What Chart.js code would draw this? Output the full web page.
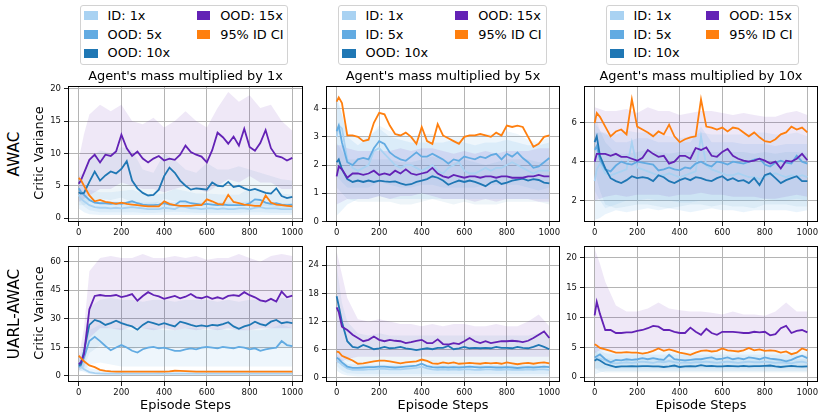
<!DOCTYPE html>
<html><head><meta charset="utf-8">
<script src="https://cdn.jsdelivr.net/npm/chart.js@4.4.1/dist/chart.umd.min.js"></script>
<style>
html,body{margin:0;padding:0;background:#fff;}
body{width:818px;height:415px;position:relative;overflow:hidden;font-family:'DejaVu Sans',sans-serif;color:#000;}
.abs{position:absolute;white-space:nowrap;line-height:1;transform:translate(-50%,-50%);}
.rot{transform:translate(-50%,-50%) rotate(-90deg);}
canvas{position:absolute;}
.leg{position:absolute;top:5px;height:60px;border:1px solid #d2d2d2;border-radius:3px;background:#fff;box-sizing:border-box;}
.sw{position:absolute;width:13.5px;height:8.5px;}
.lt{position:absolute;font-size:12.9px;line-height:1;white-space:nowrap;transform:translateY(-50%);}
</style></head><body>
<script>
// ---------- x positions ----------
const steps = [0,10,25,50,75,100,125,150,175,200,225,250,275,300,325,350,375,400,425,450,475,500,525,550,575,600,625,650,675,700,725,750,775,800,825,850,875,900,925,950,975,1000];
const bandSteps = [0,25,50,100,150,200,250,300,350,400,450,500,550,600,650,700,750,800,850,900,950,1000];
const xTicks = [0,200,400,600,800,1000];

// ---------- legends ----------
const legend1 = ['ID: 1x','OOD: 5x','OOD: 10x','OOD: 15x','95% ID CI'];
const legend2 = ['ID: 1x','ID: 5x','OOD: 10x','OOD: 15x','95% ID CI'];
const legend3 = ['ID: 1x','ID: 5x','ID: 10x','OOD: 15x','95% ID CI'];
const titles = ["Agent's mass multiplied by 1x","Agent's mass multiplied by 5x","Agent's mass multiplied by 10x"];
const rowLabels = ['AWAC','UARL-AWAC'];

// ---------- AWAC, mass 1x ----------
const a1_id1 = [3.6,3.0, 2.6,2.0,1.7,1.6,1.6,1.5,1.6,1.5,1.6,1.7, 1.6,1.5,1.4,1.4,1.4,1.6,1.5,1.4,1.8,1.7, 1.5,1.5,1.4,1.5,1.5,1.4,1.5,1.4,1.4,1.5, 1.5,1.4,1.6,1.7,1.5,1.5,1.5,1.4,1.4,1.4];
const a1_ood5 = [4.6,4.1, 3.6,2.8,2.4,2.3,2.3,2.2,2.3,2.2,2.4,2.6, 2.3,2.1,2.0,2.0,2.1,2.3,2.1,2.0,2.6,2.6, 2.3,2.2,2.1,2.2,2.1,2.0,2.1,2.0,2.0,2.0, 2.0,2.3,2.9,2.8,2.4,2.2,2.3,2.1,2.0,2.1];
const a1_ood10 = [4.0,3.8, 3.9,5.6,7.2,5.8,6.6,7.2,6.9,7.6,8.8,5.8, 4.6,3.9,3.5,3.6,4.4,6.5,7.8,7.0,5.8,5.0, 4.4,4.6,4.5,4.4,5.5,5.0,4.9,5.6,4.8,5.0, 4.6,4.3,4.5,4.2,3.9,3.8,4.6,3.4,3.1,3.3];
const a1_ood15 = [5.3,5.8, 7.0,9.0,9.8,8.6,9.8,9.6,10.3,12.9,10.8,9.6, 10.3,9.2,8.6,9.2,9.6,8.9,9.2,9.0,9.8,11.2, 10.2,9.8,9.5,8.6,10.5,13.2,12.5,11.5,12.6,11.2, 13.8,11.0,10.4,11.6,13.6,10.8,9.6,9.4,8.9,9.3];
const a1_ci = [6.2,5.9, 5.0,3.5,2.6,2.8,2.5,2.4,2.2,2.4,2.2,2.1, 2.0,1.9,1.8,1.8,1.8,2.6,2.2,2.0,1.9,1.9, 1.9,2.0,2.0,2.9,2.6,2.2,2.1,3.6,2.5,2.3, 2.1,2.0,1.9,1.9,3.5,2.4,2.1,2.0,1.9,1.8];
const a1_id1_hi = [5.0,3.8,3.0,2.6,2.6,2.5,2.6,2.4,2.4,2.6,2.5,2.4,2.4,2.4,2.5,2.4,2.4,2.6,2.5,2.4,2.3,2.3];
const a1_id1_lo = [1.5,0.9,0.6,0.5,0.5,0.5,0.5,0.5,0.5,0.5,0.5,0.5,0.5,0.5,0.5,0.5,0.5,0.5,0.5,0.5,0.5,0.5];
const a1_ood5_hi = [6.0,5.0,4.4,4.0,4.0,4.2,4.4,3.8,3.6,3.8,4.5,4.2,3.8,3.8,3.7,3.6,3.6,4.6,4.3,4.0,3.8,3.6];
const a1_ood5_lo = [2.8,1.8,1.2,0.9,0.9,0.9,0.9,0.8,0.8,0.9,1.0,0.9,0.8,0.8,0.8,0.8,0.8,0.9,0.9,0.8,0.8,0.8];
const a1_ood10_hi = [6.5,7.0,9.0,10.5,10.0,11.0,10.5,7.5,7.0,10.0,9.0,7.5,7.0,8.5,7.5,7.5,8.0,7.5,7.0,6.5,6.0,5.8];
const a1_ood10_lo = [2.0,2.0,2.5,3.0,2.8,3.2,2.5,2.0,2.0,3.0,2.6,2.2,2.2,2.5,2.2,2.2,2.4,2.2,2.0,1.8,1.6,1.6];
const a1_ood15_hi = [9.0,13.0,16.0,17.5,16.5,17.5,15.0,14.5,15.5,14.0,15.0,16.5,15.0,14.0,17.0,19.5,18.0,19.0,17.0,17.5,15.0,13.5];
const a1_ood15_lo = [2.5,3.0,3.5,4.5,4.5,5.5,5.0,4.5,4.5,4.0,4.5,5.0,4.5,4.0,5.0,6.0,5.5,6.5,5.5,5.5,4.5,4.5];

// ---------- AWAC, mass 5x ----------
const a5_id1 = [3.0,3.4, 3.3,2.2,1.9,1.8,1.9,2.0,2.5,2.6,2.4,2.2, 2.0,1.9,2.0,2.0,1.9,1.8,1.9,2.0,1.8,1.7, 1.9,2.0,2.1,1.8,1.7,1.7,1.8,1.9,1.8,1.9, 1.9,2.0,2.1,2.0,1.9,1.8,1.7,1.8,1.8,1.8];
const a5_id5 = [3.2,3.4, 2.8,2.1,2.0,2.2,2.25,2.2,2.6,2.85,2.75,2.45, 2.3,2.2,2.15,2.3,2.45,2.3,2.3,2.4,2.3,2.2, 2.05,2.2,2.15,2.3,2.25,2.2,2.3,2.25,2.35,2.4, 2.2,2.4,2.3,2.45,2.25,2.1,1.9,1.95,2.1,2.25];
const a5_ood10 = [2.1,2.2, 1.85,1.5,1.4,1.45,1.4,1.45,1.4,1.45,1.42,1.4, 1.42,1.35,1.3,1.32,1.4,1.45,1.5,1.6,1.55,1.45, 1.3,1.38,1.45,1.4,1.45,1.4,1.33,1.25,1.38,1.45, 1.33,1.38,1.45,1.48,1.52,1.45,1.5,1.47,1.38,1.35];
const a5_ood15 = [1.6,1.95, 1.85,1.55,1.7,1.7,1.65,1.7,1.8,1.65,1.7,1.65, 1.8,1.7,1.85,1.7,1.65,1.7,1.75,1.9,1.7,1.6, 1.55,1.65,1.6,1.55,1.6,1.6,1.55,1.6,1.6,1.55, 1.6,1.6,1.55,1.55,1.55,1.6,1.6,1.65,1.6,1.6];
const a5_ci = [4.25,4.4, 4.2,3.05,3.05,3.0,2.85,2.9,3.5,3.85,3.8,3.4, 3.1,3.05,3.15,3.0,2.75,3.35,2.85,2.75,3.45,3.05, 2.95,2.85,2.75,3.0,3.05,3.05,3.1,3.05,3.0,3.15, 3.05,3.4,3.35,3.4,3.35,3.0,2.65,2.75,3.0,3.05];
const a5_id1_hi = [4.5,3.8,3.0,2.7,3.0,3.3,3.0,2.9,2.8,2.8,2.8,2.8,2.9,2.8,2.7,2.8,2.8,2.9,2.8,2.7,2.7,2.8];
const a5_id1_lo = [0.2,0.4,0.6,0.8,0.8,0.9,0.8,0.8,0.8,0.8,0.8,0.8,0.8,0.8,0.8,0.8,0.8,0.8,0.8,0.8,0.8,0.8];
const a5_id5_hi = [4.3,3.8,3.1,3.0,3.0,3.4,3.2,3.1,3.0,3.1,3.1,3.0,3.0,3.0,3.0,3.1,3.1,3.2,3.1,2.9,2.8,3.0];
const a5_id5_lo = [1.6,1.4,1.2,1.2,1.2,1.4,1.3,1.2,1.2,1.3,1.3,1.2,1.2,1.2,1.2,1.3,1.3,1.3,1.3,1.2,1.1,1.2];
const a5_ood10_hi = [2.8,2.5,2.2,2.2,2.2,2.2,2.2,2.1,2.1,2.2,2.3,2.2,2.1,2.2,2.1,2.0,2.1,2.2,2.2,2.2,2.1,2.1];
const a5_ood10_lo = [1.2,1.0,0.8,0.7,0.7,0.7,0.7,0.6,0.6,0.7,0.8,0.7,0.6,0.7,0.6,0.6,0.6,0.7,0.7,0.7,0.7,0.6];
const a5_ood15_hi = [2.7,2.7,2.6,2.5,2.5,2.5,2.5,2.6,2.5,2.6,2.6,2.5,2.4,2.5,2.4,2.5,2.4,2.5,2.5,2.5,2.6,2.6];
const a5_ood15_lo = [0.6,0.7,0.8,0.8,0.8,0.9,0.8,0.9,0.9,1.0,0.9,0.8,0.8,0.8,0.7,0.8,0.7,0.8,0.8,0.8,0.7,0.7];

// ---------- AWAC, mass 10x ----------
const a10_id1 = [3.0,3.6, 3.9,3.4,3.3,3.4,3.5,3.6,5.0,3.7,3.6,3.5, 3.4,3.3,3.3,3.4,3.3,3.2,3.3,3.4,3.5,5.3, 3.8,3.6,3.5,3.4,3.3,3.3,3.4,3.3,3.2,3.2, 3.1,3.2,3.3,3.4,3.3,3.2,3.3,3.2,3.3,3.2];
const a10_id5 = [4.6,4.8, 4.1,3.6,3.5,3.8,4.0,3.9,3.85,4.0,3.95,3.9, 3.85,3.55,3.6,3.7,3.6,3.55,3.7,3.65,3.9,4.0, 3.85,3.75,4.0,3.95,3.85,4.0,3.95,3.9,4.0,4.1, 4.15,3.85,3.75,3.95,4.05,3.95,3.9,4.3,4.0,3.9];
const a10_id10 = [5.0,5.3, 4.3,3.65,3.15,3.0,2.9,3.05,3.25,3.15,3.2,3.15, 3.0,3.3,3.2,3.0,2.9,3.05,3.15,3.05,3.2,3.15, 3.05,3.0,3.15,3.25,3.05,3.15,3.0,3.05,2.9,3.15, 2.8,3.3,3.4,3.15,2.9,3.05,3.15,3.25,3.0,3.0];
const a10_ood15 = [4.0,4.4, 4.4,4.4,4.3,4.4,4.25,4.25,4.15,4.05,4.2,4.6, 4.4,4.25,4.3,3.9,4.0,4.3,4.3,4.15,4.7,4.6, 4.73,4.3,4.25,4.5,4.65,4.3,4.15,4.05,4.0,4.05, 4.15,4.05,3.9,4.0,3.65,4.05,4.0,4.15,4.4,4.07];
const a10_ci = [5.98,6.5, 6.3,5.8,5.3,5.55,5.65,5.4,7.2,5.8,5.65,5.5, 5.3,5.55,5.4,5.9,5.3,5.0,5.15,5.25,5.3,7.2, 5.8,5.75,5.65,5.75,5.55,5.75,5.7,5.5,5.3,5.5, 5.25,5.05,5.0,5.15,5.4,5.5,5.8,5.65,5.75,5.5];
const a10_id1_hi = [5.5,5.5,5.5,5.0,5.0,5.2,5.2,5.0,5.0,5.0,5.0,5.8,5.0,5.0,5.0,4.9,4.9,4.9,4.8,4.9,4.9,4.9];
const a10_id1_lo = [1.0,1.1,1.3,1.5,1.4,1.5,1.6,1.5,1.6,1.5,1.4,1.5,1.6,1.5,1.5,1.4,1.5,1.5,1.5,1.5,1.4,1.5];
const a10_id5_hi = [6.0,5.6,5.4,5.4,5.6,5.5,5.5,5.4,5.3,5.2,5.3,5.5,5.4,5.4,5.4,5.4,5.5,5.5,5.4,5.4,5.5,5.3];
const a10_id5_lo = [2.5,2.0,1.6,1.8,2.0,2.0,2.1,2.0,2.0,1.9,1.9,2.0,2.0,2.0,2.0,2.0,2.0,2.1,2.0,2.0,2.1,2.0];
const a10_id10_hi = [6.5,5.6,5.0,4.4,4.4,4.5,4.6,4.5,4.4,4.5,4.5,4.6,4.5,4.5,4.5,4.5,4.4,4.5,4.4,4.5,4.5,4.4];
const a10_id10_lo = [3.5,2.5,1.8,1.6,1.7,1.8,1.8,1.7,1.6,1.7,1.8,1.8,1.7,1.8,1.7,1.7,1.6,1.8,1.8,1.8,1.7,1.7];
const a10_ood15_hi = [6.8,6.7,6.6,6.6,6.7,6.5,6.8,6.6,6.6,6.4,6.5,6.6,6.6,6.5,6.4,6.5,6.4,6.3,6.3,6.5,6.6,6.4];
const a10_ood15_lo = [2.0,2.1,2.2,2.3,2.2,2.3,2.3,2.3,2.2,2.3,2.3,2.4,2.3,2.3,2.2,2.2,2.2,2.1,2.1,2.2,2.3,2.2];

// ---------- UARL-AWAC, mass 1x ----------
const u1_id1 = [7.0,5.0, 3.5,2.0,1.5,1.3,1.2,1.2,1.2,1.3,1.2,1.2, 1.2,1.2,1.2,1.2,1.3,1.2,1.2,1.2,1.2,1.2, 1.2,1.2,1.2,1.2,1.2,1.2,1.2,1.2,1.2,1.2, 1.2,1.2,1.2,1.2,1.2,1.2,1.2,1.2,1.2,1.2];
const u1_ood5 = [4.6,5.5, 9.7,18.3,20.5,18.3,15.7,13.5,14.9,16.2,14.9,13.2, 12.3,14.0,14.9,15.2,14.5,14.9,14.0,13.2,13.2,14.0, 14.5,14.0,14.9,15.2,14.9,14.5,15.2,14.9,14.5,15.2, 14.9,14.0,14.5,13.2,14.0,14.5,14.9,18.3,16.2,15.7];
const u1_ood10 = [5.5,6.0, 13,26.8,29.4,28.5,26.8,27.7,29,27.7,26.8,26, 24.3,26.8,28.5,27.7,26.8,27.7,26.8,26,28.5,27.7, 26.8,26,26.5,26,26.8,26.5,27.2,28.2,26,24.8, 26,26.8,28.5,27.2,26.5,28.5,29.4,27.7,28.2,27.7];
const u1_ood15 = [6.3,7.0, 11.5,35,42,42.5,42,42,42.5,41.4,42,43, 39.5,42,44,42.5,41.8,40.5,41.3,42,40.8,41.6, 43,41.3,40.8,41.8,40.5,41.3,40.5,42,42.4,42, 44,42.4,41.3,39.7,39.1,40.5,39.1,44.3,41.3,42.2];
const u1_ci = [10.6,9.5, 7.7,5.5,4.6,3.2,2.6,2.4,2.3,2.3,2.3,2.3, 2.3,2.3,2.3,2.3,2.3,2.3,2.4,2.7,2.6,2.5, 2.4,2.3,2.3,2.3,2.3,2.3,2.2,2.3,2.3,2.3, 2.2,2.3,2.3,2.2,2.3,2.3,2.2,2.3,2.3,2.3];
const u1_id1_hi = [10,7,4,3,3,3,3,3,3,3,3,3,3,3,3,3,3,3,3,3,3,3];
const u1_id1_lo = [3,2,1,0.3,0.3,0.3,0.3,0.3,0.3,0.3,0.3,0.3,0.3,0.3,0.3,0.3,0.3,0.3,0.3,0.3,0.3,0.3];
const u1_ood5_hi = [7,14,24,27,25,25,24,25,25,24,24,25,25,24,25,24,25,24,24,25,27,25];
const u1_ood5_lo = [2,3,6,7,6,5,5,5,5,5,5,5,5,5,5,5,5,5,5,5,5,5];
const u1_ood10_hi = [8,18,36,40,41,40,40,39,40,40,39,40,40,40,39,40,39,40,40,39,41,40];
const u1_ood10_lo = [3,4,12,16,16,15,14,15,15,14,15,15,14,14,15,14,15,15,14,15,15,15];
const u1_ood15_hi = [10,25,55,62,63,62,62,64,62,62,63,62,63,61,62,62,64,62,60,63,64,63];
const u1_ood15_lo = [3,5,20,25,25,24,26,25,24,25,24,25,24,25,24,25,24,24,25,25,25,25];

// ---------- UARL-AWAC, mass 5x ----------
const u5_id1 = [3.6,3.4, 2.8,2.0,1.7,1.7,1.7,1.8,1.8,1.9,1.9,1.8, 1.8,1.8,1.9,2.0,2.1,2.4,2.0,1.8,1.7,1.8, 1.7,1.8,1.7,1.8,1.8,1.7,1.7,1.8,1.8,1.7, 1.7,1.8,1.7,1.7,1.7,1.8,1.7,1.8,1.8,1.7];
const u5_id5 = [4.3,4.0, 3.3,2.4,2.1,2.1,2.2,2.3,2.3,2.4,2.4,2.3, 2.2,2.3,2.4,2.5,2.6,3.0,2.5,2.3,2.2,2.3, 2.2,2.3,2.2,2.3,2.4,2.3,2.2,2.3,2.3,2.2, 2.2,2.3,2.2,2.1,2.2,2.3,2.2,2.3,2.4,2.3];
const u5_ood10 = [17.4,15.3, 11.9,7.8,6.6,6.4,7.0,6.6,6.1,6.3,6.6,6.3, 6.4,6.6,6.3,6.1,5.9,6.1,6.3,6.1,6.4,6.4, 6.8,6.1,6.3,6.6,6.3,6.4,6.3,6.4,6.3,6.6, 6.4,6.4,6.3,6.6,6.4,6.3,6.6,7.0,6.6,6.1];
const u5_ood15 = [15,14.0, 10.9,10.2,9.2,8.5,7.8,8.1,8.8,8.1,7.8,8.1, 7.9,7.8,7.4,7.6,7.9,8.1,7.4,7.4,8.2,7.2, 7.1,7.4,7.2,7.8,8.5,7.8,7.4,7.8,7.4,7.6, 7.8,7.8,7.9,7.8,7.6,7.9,8.5,9.2,9.9,8.5];
const u5_ci = [5.6,5.5, 4.7,4.2,3.7,3.0,3.1,3.3,3.5,3.65,3.65,3.5, 3.3,3.1,3.3,3.4,3.5,3.9,3.6,3.1,3.0,3.3, 3.1,3.3,3.0,3.1,3.2,3.1,3.0,3.2,3.1,3.2, 3.0,3.3,3.1,2.9,3.1,3.2,3.0,3.2,3.3,3.1];
const u5_id1_hi = [5,4,3,2.8,2.8,2.8,2.8,2.8,2.8,2.8,2.8,2.8,2.8,2.8,2.8,2.8,2.8,2.8,2.8,2.8,2.8,2.8];
const u5_id1_lo = [1.5,0.8,0.5,0.3,0.3,0.3,0.3,0.3,0.3,0.3,0.3,0.3,0.3,0.3,0.3,0.3,0.3,0.3,0.3,0.3,0.3,0.3];
const u5_id5_hi = [6,4.8,4,3.5,3.5,3.6,3.5,3.5,3.5,3.6,3.8,3.5,3.5,3.5,3.5,3.5,3.5,3.5,3.5,3.5,3.5,3.5];
const u5_id5_lo = [2.5,1.5,1,0.8,0.8,0.8,0.8,0.8,0.8,0.8,0.8,0.8,0.8,0.8,0.8,0.8,0.8,0.8,0.8,0.8,0.8,0.8];
const u5_ood10_hi = [24,16,12,9.5,9,9.5,9,9,9,9,9,9,9,9,9,9,9,9,9,9,9.5,9];
const u5_ood10_lo = [6,4.5,3.5,3.5,3.5,3.5,3.5,3.5,3.5,3.5,3.5,3.5,3.5,3.5,3.5,3.5,3.5,3.5,3.5,3.5,3.5,3.5];
const u5_ood15_hi = [27,22,17,12.5,12,12.5,12,11.5,11.5,11,11.5,11,11.5,11.5,11,11,11.5,11,11,12,13.5,11];
const u5_ood15_lo = [3,3.5,4,4.5,4.5,4.5,4.5,4.5,4.5,4.5,4.5,4.5,4.5,4.5,4.5,4.5,4.5,4.5,4.5,4.5,4.5,4.5];

// ---------- UARL-AWAC, mass 10x ----------
const u10_id1 = [3.0,3.2, 3.1,2.8,2.4,2.3,2.4,2.5,2.4,2.5,2.6,2.5, 2.4,2.6,2.5,2.7,2.5,2.4,2.5,2.4,2.5,2.5, 2.6,2.5,2.4,2.5,2.6,2.5,2.4,2.5,2.6,2.5, 2.5,2.6,2.5,2.4,2.5,2.4,2.3,2.5,2.6,2.4];
const u10_id5 = [3.3,3.5, 3.8,3.0,2.5,2.9,2.8,3.0,2.9,3.0,3.2,3.0, 3.2,3.0,2.9,3.75,3.0,2.9,2.8,2.9,3.0,3.0, 3.2,3.3,3.0,3.1,3.3,3.0,3.2,3.0,3.3,3.2, 3.0,3.3,3.1,3.0,2.9,2.65,2.9,3.3,3.6,3.2];
const u10_id10 = [2.75,3.0, 2.8,2.2,1.95,1.7,1.8,1.8,1.85,1.8,1.85,1.85, 1.8,1.8,1.7,1.8,1.95,1.7,1.8,1.85,1.8,2.0, 1.85,1.9,1.8,1.8,1.9,1.85,1.8,1.9,1.8,1.85, 1.85,1.9,1.95,1.8,1.7,1.8,1.9,1.8,1.75,1.8];
const u10_ood15 = [10.35,12.6, 10.6,7.9,7.9,7.4,7.4,7.5,7.5,7.75,7.9,8.2, 8.6,8.45,7.9,7.9,7.6,7.4,7.4,8.3,7.6,7.1, 8.1,7.4,7.1,7.6,7.6,7.6,7.5,7.4,7.4,7.6, 7.5,7.6,7.0,7.2,8.2,8.6,7.4,7.75,7.9,7.5];
const u10_ci = [5.5,5.3, 4.9,4.65,4.4,4.1,4.1,4.2,4.1,4.1,3.95,4.1, 4.4,4.8,4.4,4.65,4.4,4.1,3.95,3.75,4.1,4.4, 4.5,4.3,4.4,4.8,4.5,4.4,4.3,4.5,4.9,4.5, 4.65,4.4,4.5,4.4,4.1,4.3,3.85,4.1,4.8,4.5];
const u10_id1_hi = [5.5,4.5,4,3.8,3.8,3.8,3.8,3.8,3.8,3.8,3.8,3.8,3.8,3.8,3.8,3.8,3.8,3.8,3.8,3.8,3.8,3.8];
const u10_id1_lo = [0.5,0.8,1,1,1,1,1,1,1,1,1,1,1,1,1,1,1,1,1,1,1,1];
const u10_id5_hi = [5,4.8,4.5,4.3,4.3,4.3,4.3,4.3,4.3,4.3,4.3,4.3,4.3,4.3,4.3,4.3,4.3,4.3,4.3,4.3,4.3,4.3];
const u10_id5_lo = [1.5,1.5,1.5,1.5,1.5,1.5,1.5,1.5,1.5,1.5,1.5,1.5,1.5,1.5,1.5,1.5,1.5,1.5,1.5,1.5,1.5,1.5];
const u10_id10_hi = [4.5,3.8,3.2,3,3,3,3,3,3,3,3,3,3,3,3,3,3,3,3,3,3,3];
const u10_id10_lo = [1.5,1,0.8,0.8,0.8,0.8,0.8,0.8,0.8,0.8,0.8,0.8,0.8,0.8,0.8,0.8,0.8,0.8,0.8,0.8,0.8,0.8];
const u10_ood15_hi = [21.5,19,16,12,11,11,11.5,12.5,11.5,11.2,11,11,10.8,10.5,11,10.5,10.5,10.3,11,12.5,11,11];
const u10_ood15_lo = [4,4.5,4.5,4.5,4.5,4.5,4.5,4.5,4.5,4.5,4.5,4.5,4.5,4.5,4.5,4.5,4.5,4.5,4.5,4.5,4.5,4.5];

// ---------- y ticks ----------
const yTicks = [[0,5,10,15,20],[0,1,2,3,4],[2,4,6],[0,15,30,45,60],[0,6,12,18,24],[0,5,10,15,20]];

// ---------- styling ----------
const COLORS = ['#a9d2f2','#62abe2','#1f77b4','#6322b5','#ff7f0e'];
const BANDS = ['rgba(169,210,242,0.24)','rgba(98,171,226,0.11)','rgba(31,119,180,0.075)','rgba(99,34,181,0.10)'];
const COLL = [68,326,584], COLW = [235,234,234];
const ROWT = [84,244], ROWH = 138;

const panels = [
  {c:0,r:0,ymin:-0.6,ymax:20.4,lines:[a1_id1,a1_ood5,a1_ood10,a1_ood15,a1_ci],
   bands:[[a1_id1_hi,a1_id1_lo],[a1_ood5_hi,a1_ood5_lo],[a1_ood10_hi,a1_ood10_lo],[a1_ood15_hi,a1_ood15_lo]]},
  {c:1,r:0,ymin:-0.02,ymax:4.8,lines:[a5_id1,a5_id5,a5_ood10,a5_ood15,a5_ci],
   bands:[[a5_id1_hi,a5_id1_lo],[a5_id5_hi,a5_id5_lo],[a5_ood10_hi,a5_ood10_lo],[a5_ood15_hi,a5_ood15_lo]]},
  {c:2,r:0,ymin:0.9,ymax:7.88,lines:[a10_id1,a10_id5,a10_id10,a10_ood15,a10_ci],
   bands:[[a10_id1_hi,a10_id1_lo],[a10_id5_hi,a10_id5_lo],[a10_id10_hi,a10_id10_lo],[a10_ood15_hi,a10_ood15_lo]]},
  {c:0,r:1,ymin:-3.2,ymax:68.2,lines:[u1_id1,u1_ood5,u1_ood10,u1_ood15,u1_ci],
   bands:[[u1_id1_hi,u1_id1_lo],[u1_ood5_hi,u1_ood5_lo],[u1_ood10_hi,u1_ood10_lo],[u1_ood15_hi,u1_ood15_lo]]},
  {c:1,r:1,ymin:-0.89,ymax:28.08,lines:[u5_id1,u5_id5,u5_ood10,u5_ood15,u5_ci],
   bands:[[u5_id1_hi,u5_id1_lo],[u5_id5_hi,u5_id5_lo],[u5_ood10_hi,u5_ood10_lo],[u5_ood15_hi,u5_ood15_lo]]},
  {c:2,r:1,ymin:-0.81,ymax:21.95,lines:[u10_id1,u10_id5,u10_id10,u10_ood15,u10_ci],
   bands:[[u10_id1_hi,u10_id1_lo],[u10_id5_hi,u10_id5_lo],[u10_id10_hi,u10_id10_lo],[u10_ood15_hi,u10_ood15_lo]]}
];

const frame = {id:'frame', afterDraw(c){
  const a=c.chartArea, x=c.ctx; x.save(); x.strokeStyle='#000'; x.lineWidth=1;
  x.strokeRect(Math.round(a.left)+0.5, Math.round(a.top)+0.5, Math.round(a.right-a.left)-1, Math.round(a.bottom-a.top)-1);
  x.restore();
}};

const TICKFONT = {family:'DejaVu Sans', size:8.5};
const YW=40, PT=6, PR=6, XH=22;

panels.forEach((p,pi)=>{
  const L=COLL[p.c], W=COLW[p.c], T=ROWT[p.r], H=ROWH;
  const cv=document.createElement('canvas');
  const w=YW+W+PR, h=PT+H+XH;
  cv.width=w; cv.height=h;
  cv.style.left=(L-YW)+'px'; cv.style.top=(T-PT)+'px';
  cv.style.width=w+'px'; cv.style.height=h+'px';
  document.body.appendChild(cv);
  const ds=[];
  p.bands.forEach((b,j)=>{
    ds.push({data:bandSteps.map((x,i)=>({x:x,y:b[0][i]})), borderWidth:0, pointRadius:0, fill:'+1', backgroundColor:BANDS[j], order:20-j});
    ds.push({data:bandSteps.map((x,i)=>({x:x,y:b[1][i]})), borderWidth:0, pointRadius:0, fill:false, order:20-j});
  });
  p.lines.forEach((l,j)=>{
    ds.push({data:steps.map((x,i)=>({x:x,y:l[i]})), borderColor:COLORS[j], borderWidth:1.8, pointRadius:0, fill:false, order:5-j});
  });
  const yt=yTicks[pi];
  new Chart(cv,{type:'line', data:{datasets:ds}, plugins:[frame], options:{
    responsive:false, animation:false, devicePixelRatio:1,
    layout:{padding:{top:PT,right:PR,left:0,bottom:0}, autoPadding:false},
    plugins:{legend:{display:false}, tooltip:{enabled:false}, title:{display:false}},
    elements:{line:{tension:0}, point:{radius:0}},
    scales:{
      x:{type:'linear', min:-50, max:1050,
        afterBuildTicks:a=>{a.ticks=xTicks.map(v=>({value:v}));},
        afterFit:s=>{s.height=XH;},
        ticks:{autoSkip:false, maxRotation:0, minRotation:0, padding:2, color:'#111', font:TICKFONT, callback:v=>String(v)},
        grid:{color:'#b4b4b4', lineWidth:1, tickColor:'#222', tickLength:4},
        border:{display:false}},
      y:{type:'linear', min:p.ymin, max:p.ymax,
        afterBuildTicks:a=>{a.ticks=yt.map(v=>({value:v}));},
        afterFit:s=>{s.width=YW;},
        ticks:{autoSkip:false, padding:3, color:'#111', font:TICKFONT, callback:v=>String(v)},
        grid:{color:'#b4b4b4', lineWidth:1, tickColor:'#222', tickLength:4},
        border:{display:false}}
    }
  }});
});

// ---------- text ----------
function addText(txt, x, y, size, rot){
  const d=document.createElement('div');
  d.className='abs'+(rot?' rot':'');
  d.style.left=x+'px'; d.style.top=y+'px'; d.style.fontSize=size+'px';
  d.textContent=txt; document.body.appendChild(d);
}
titles.forEach((t,i)=>addText(t, COLL[i]+COLW[i]/2, 75.5, 12.9));
rowLabels.forEach((t,i)=>{
  addText(t, 14.7, ROWT[i]+ROWH/2+0.5, 15.3, true);
  addText('Critic Variance', 39.2, ROWT[i]+ROWH/2, 12.9, true);
});
for(let i=0;i<3;i++) addText('Episode Steps', COLL[i]+COLW[i]/2, 404.5, 12.9);

// ---------- legends ----------
const legs=[{lab:legend1,left:80,width:208,col2:116.7},{lab:legend2,left:338,width:208.5,col2:116.7},{lab:legend3,left:606,width:192.5,col2:99.7}];
const rowY=[10.7,29.5,48.3];
legs.forEach(g=>{
  const box=document.createElement('div'); box.className='leg';
  box.style.left=g.left+'px'; box.style.width=g.width+'px';
  document.body.appendChild(box);
  g.lab.forEach((t,k)=>{
    const col=k<3?0:1, row=k<3?k:k-3;
    const x0=(col?g.col2:4)-1, y0=rowY[row]-1;
    const sw=document.createElement('div'); sw.className='sw';
    sw.style.left=x0+'px'; sw.style.top=(y0-4.25)+'px'; sw.style.background=COLORS[k];
    box.appendChild(sw);
    const tx=document.createElement('div'); tx.className='lt';
    tx.style.left=(x0+23.5)+'px'; tx.style.top=y0+'px'; tx.textContent=t;
    box.appendChild(tx);
  });
});
</script>
</body></html>
